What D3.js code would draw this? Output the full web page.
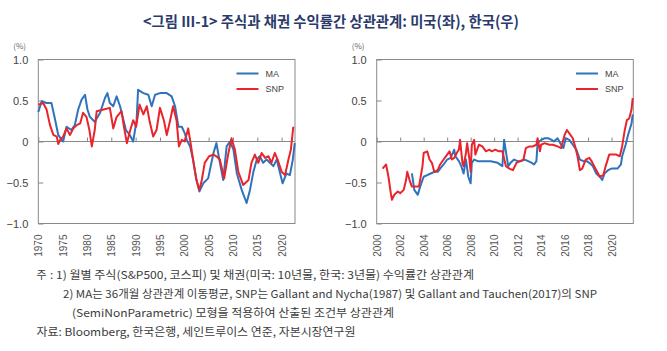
<!DOCTYPE html>
<html>
<head>
<meta charset="utf-8">
<script src="https://cdn.jsdelivr.net/npm/d3@7"></script>
<style>
  body { margin: 0; background: #fff; }
  svg { display: block; }
</style>
</head>
<body>
<svg id="chart" width="667" height="351"></svg>
<script>
// US: monthly stock-bond correlation
let usMA = [
  [1970.0,0.36],[1970.7,0.49],[1971.7,0.47],[1972.7,0.47],[1973.4,0.28],[1974.1,0.08],[1974.8,0.02],
  [1975.1,0.0],[1975.8,0.18],[1976.8,0.14],[1977.5,0.2],[1978.2,0.39],[1978.9,0.51],[1979.6,0.57],
  [1980.1,0.39],[1980.6,0.3],[1981.6,0.24],[1982.7,0.35],[1983.7,0.53],[1984.2,0.59],[1984.7,0.47],
  [1985.4,0.43],[1986.1,0.55],[1986.8,0.43],[1987.5,0.26],[1988.0,0.14],[1988.8,0.08],[1989.5,0.0],
  [1990.2,0.26],[1990.5,0.63],[1991.6,0.59],[1992.6,0.57],[1993.3,0.43],[1994.0,0.57],[1995.0,0.59],
  [1996.4,0.59],[1997.4,0.55],[1998.1,0.43],[1998.8,0.18],[1999.5,0.18],[2000.1,0.1],[2000.5,0.02],
  [2001.2,-0.06],[2001.8,-0.22],[2002.5,-0.47],[2003.1,-0.61],[2003.9,-0.51],[2004.9,-0.45],
  [2006.0,-0.14],[2006.6,-0.02],[2007.2,-0.22],[2008.0,-0.47],[2008.7,-0.06],[2009.4,0.0],
  [2010.1,-0.1],[2010.8,-0.39],[2011.8,-0.59],[2012.8,-0.75],[2013.5,-0.59],[2014.2,-0.37],
  [2014.9,-0.22],[2015.5,-0.18],[2016.2,-0.26],[2016.9,-0.22],[2017.6,-0.26],[2018.3,-0.3],
  [2019.0,-0.22],[2019.7,-0.39],[2020.2,-0.51],[2021.0,-0.39],[2021.7,-0.41],[2022.3,-0.22],[2022.7,-0.02]
];
let usSNP = [
  [1970.0,0.45],[1971.0,0.47],[1971.7,0.39],[1972.4,0.2],[1973.1,0.08],[1973.8,0.06],[1974.1,-0.03],
  [1974.5,0.02],[1975.1,0.06],[1975.8,0.16],[1976.5,0.08],[1977.2,0.16],[1977.9,0.2],[1978.6,0.22],
  [1979.2,0.35],[1979.9,0.3],[1980.5,0.14],[1981.0,-0.06],[1981.6,0.14],[1982.0,0.37],[1983.4,0.39],
  [1984.7,0.41],[1985.4,0.16],[1986.1,0.3],[1987.1,0.37],[1987.6,0.18],[1988.2,-0.02],[1988.8,0.12],
  [1989.5,0.26],[1990.1,0.18],[1990.8,0.45],[1991.6,0.33],[1992.3,0.43],[1992.9,0.24],[1993.6,0.06],
  [1994.3,0.14],[1995.0,0.41],[1995.8,0.26],[1996.4,0.08],[1997.1,0.26],[1997.7,0.43],[1998.4,0.26],
  [1998.9,-0.06],[1999.5,0.02],[2000.1,0.0],[2000.8,0.16],[2001.3,-0.02],[2001.8,-0.22],[2002.5,-0.47],
  [2003.1,-0.59],[2003.6,-0.47],[2004.2,-0.26],[2005.1,-0.18],[2006.0,-0.16],[2006.6,-0.18],
  [2007.3,-0.22],[2008.2,-0.45],[2009.0,-0.16],[2009.7,0.04],[2010.4,-0.1],[2011.1,-0.37],
  [2012.1,-0.53],[2013.2,-0.47],[2013.8,-0.26],[2014.5,-0.16],[2015.2,-0.26],[2015.9,-0.14],
  [2016.6,-0.2],[2017.3,-0.18],[2017.9,-0.26],[2018.6,-0.14],[2019.3,-0.24],[2020.0,-0.37],
  [2020.7,-0.41],[2021.4,-0.22],[2021.9,-0.1],[2022.4,0.18]
];

// Korea
let krMA = [
  [2003.0,-0.39],[2003.2,-0.59],[2003.5,-0.65],[2003.7,-0.55],[2004.0,-0.43],[2004.3,-0.41],
  [2004.6,-0.39],[2004.9,-0.37],[2005.2,-0.37],[2005.4,-0.33],[2005.7,-0.28],[2006.0,-0.22],
  [2006.3,-0.2],[2006.6,-0.1],[2006.7,-0.18],[2007.0,-0.24],[2007.2,-0.3],[2007.4,-0.39],
  [2007.6,-0.22],[2007.8,-0.43],[2008.0,-0.51],[2008.1,-0.26],[2008.3,-0.22],[2008.6,-0.24],
  [2009.1,-0.24],[2009.7,-0.24],[2010.3,-0.26],[2010.7,-0.3],[2010.85,0.02],[2011.0,-0.12],
  [2011.2,-0.3],[2011.4,-0.26],[2011.7,-0.22],[2012.0,-0.24],[2012.3,-0.24],[2012.6,-0.22],
  [2012.9,-0.24],[2013.2,-0.26],[2013.4,-0.28],[2013.6,-0.24],[2013.7,-0.02],[2014.0,0.02],
  [2014.3,0.04],[2014.6,0.04],[2014.9,0.02],[2015.1,0.0],[2015.4,0.04],[2015.7,-0.04],
  [2015.9,-0.08],[2016.1,0.04],[2016.4,0.02],[2016.7,-0.04],[2017.0,-0.1],[2017.3,-0.22],
  [2017.6,-0.24],[2017.9,-0.24],[2018.1,-0.26],[2018.4,-0.3],[2018.7,-0.39],[2019.0,-0.43],
  [2019.2,-0.47],[2019.4,-0.39],[2019.7,-0.35],[2020.0,-0.33],[2020.3,-0.33],[2020.5,-0.33],
  [2020.8,-0.28],[2020.9,-0.18],[2021.2,-0.04],[2021.4,0.08],[2021.7,0.22],[2021.8,0.33]
];
let krSNP = [
  [2000.5,-0.33],[2000.8,-0.28],[2001.0,-0.43],[2001.2,-0.63],[2001.3,-0.71],[2001.5,-0.65],
  [2001.8,-0.61],[2002.0,-0.63],[2002.3,-0.59],[2002.5,-0.47],[2002.6,-0.37],[2002.8,-0.47],
  [2003.0,-0.55],[2003.3,-0.55],[2003.6,-0.55],[2003.9,-0.3],[2004.0,-0.14],[2004.3,-0.12],
  [2004.5,-0.22],[2004.7,-0.26],[2004.9,-0.37],[2005.2,-0.35],[2005.4,-0.28],[2005.7,-0.22],
  [2006.0,-0.16],[2006.2,-0.12],[2006.4,-0.22],[2006.6,-0.2],[2006.9,-0.12],[2007.0,-0.1],
  [2007.1,0.02],[2007.3,-0.26],[2007.4,-0.3],[2007.6,-0.14],[2007.7,-0.02],[2007.9,-0.22],
  [2008.0,-0.37],[2008.1,-0.04],[2008.3,0.02],[2008.4,-0.16],[2008.7,-0.04],[2009.0,-0.06],
  [2009.3,-0.12],[2009.6,-0.1],[2009.8,-0.12],[2010.1,-0.1],[2010.4,-0.12],[2010.7,-0.12],
  [2011.0,-0.3],[2011.3,-0.33],[2011.6,-0.35],[2011.9,-0.26],[2012.2,-0.24],[2012.5,-0.22],
  [2012.7,-0.08],[2013.0,-0.06],[2013.3,-0.06],[2013.6,-0.04],[2013.7,0.04],[2013.9,-0.12],
  [2014.0,-0.04],[2014.3,-0.02],[2014.7,-0.04],[2015.0,-0.04],[2015.4,-0.06],[2015.7,-0.08],
  [2016.0,0.08],[2016.2,0.14],[2016.4,0.1],[2016.7,0.04],[2016.9,-0.06],[2017.1,-0.18],
  [2017.3,-0.35],[2017.5,-0.33],[2017.8,-0.22],[2018.1,-0.2],[2018.3,-0.24],[2018.7,-0.35],
  [2019.0,-0.43],[2019.3,-0.41],[2019.5,-0.3],[2019.8,-0.16],[2020.1,-0.16],[2020.4,-0.16],
  [2020.7,-0.18],[2020.9,-0.06],[2021.1,0.12],[2021.3,0.26],[2021.5,0.28],[2021.7,0.39],[2021.8,0.53]
];

let usYearTicks = [1970, 1975, 1980, 1985, 1990, 1995, 2000, 2005, 2010, 2015, 2020];
let krYearTicks = [2000, 2002, 2004, 2006, 2008, 2010, 2012, 2014, 2016, 2018, 2020];
let yTicks = [-1, -0.5, 0, 0.5, 1];
let seriesNames = ["MA", "SNP"];

let title = "<그림 III-1> 주식과 채권 수익률간 상관관계: 미국(좌), 한국(우)";
let notes = [
  ": 1) 월별 주식(S&P500, 코스피) 및 채권(미국: 10년물, 한국: 3년물) 수익률간 상관관계",
  "2) MA는 36개월 상관관계 이동평균, SNP는 Gallant and Nycha(1987) 및 Gallant and Tauchen(2017)의 SNP",
  "(SemiNonParametric) 모형을 적용하여 산출된 조건부 상관관계",
  "자료: Bloomberg, 한국은행, 세인트루이스 연준, 자본시장연구원"
];

let blue = "#2f73bd";
let red = "#e9242b";
let font = "'Noto Sans CJK KR', 'Noto Sans', sans-serif";

let svg = d3.select("#chart");
svg.append("rect").attr("width", 667).attr("height", 351).attr("fill", "#fff");

svg.append("text")
  .attr("x", 331).attr("y", 27)
  .attr("text-anchor", "middle")
  .attr("font-family", font)
  .attr("font-weight", "bold")
  .attr("font-size", "15px")
  .attr("fill", "#2b3a6c")
  .attr("textLength", 376)
  .attr("lengthAdjust", "spacingAndGlyphs")
  .text(title);

let plotTop = 59.5, plotBottom = 223.5;
let y = d3.scaleLinear().domain([-1, 1]).range([plotBottom, plotTop]);

function drawPanel(left, right, domain, ticks, ma, snp, legendX) {
  let x = d3.scaleLinear().domain(domain).range([left, right]);
  let g = svg.append("g");

  g.append("text")
    .attr("x", left - 25).attr("y", 49)
    .attr("font-family", font).attr("font-size", "8px").attr("fill", "#666")
    .text("(%)");

  // y axis with inward ticks
  let yAxis = d3.axisLeft(y).tickValues(yTicks).tickSize(-5).tickPadding(10)
    .tickFormat(d => d == 0 ? "0" : d3.format(".1f")(d));
  let ya = g.append("g").attr("transform", "translate(" + left + ",0)").call(yAxis);
  ya.select(".domain").remove();
  ya.selectAll("line").attr("stroke", "#888");
  ya.selectAll("text").attr("font-family", "'Liberation Sans', Arial, sans-serif")
    .attr("font-size", "11px").attr("fill", "#444");

  // zero line with upward ticks
  let zAxis = d3.axisTop(x).tickValues(ticks).tickSize(4).tickFormat("");
  let za = g.append("g").attr("transform", "translate(0," + y(0) + ")").call(zAxis);
  za.select(".domain").attr("stroke", "#888").attr("d", "M" + left + ",0H" + right);
  za.selectAll("line").attr("stroke", "#888");

  // year labels, rotated
  let xAxis = d3.axisBottom(x).tickValues(ticks).tickSize(0).tickFormat(d3.format("d"));
  let xa = g.append("g").attr("transform", "translate(0," + plotBottom + ")").call(xAxis);
  xa.select(".domain").remove();
  xa.selectAll("text")
    .attr("font-family", "'Liberation Sans', Arial, sans-serif")
    .attr("font-size", "10px").attr("fill", "#555")
    .attr("text-anchor", "end")
    .attr("transform", "rotate(-90)")
    .attr("x", -11).attr("y", 0).attr("dy", "0.35em");

  // frame
  g.append("rect")
    .attr("x", left).attr("y", plotTop)
    .attr("width", right - left).attr("height", plotBottom - plotTop)
    .attr("fill", "none").attr("stroke", "#8a8a8a").attr("stroke-width", 1);

  let line = d3.line().x(d => x(d[0])).y(d => y(d[1]));
  [ma, snp].forEach((s, i) => {
    g.append("path")
      .datum(s)
      .attr("d", line)
      .attr("fill", "none")
      .attr("stroke", i ? red : blue)
      .attr("stroke-width", 2)
      .attr("stroke-linejoin", "round");
  });

  // legend
  seriesNames.forEach((name, i) => {
    let ly = 73.5 + i * 15.5;
    g.append("line")
      .attr("x1", legendX).attr("x2", legendX + 22)
      .attr("y1", ly).attr("y2", ly)
      .attr("stroke", i ? red : blue).attr("stroke-width", 2);
    g.append("text")
      .attr("x", legendX + 29).attr("y", ly).attr("dy", "0.35em")
      .attr("font-family", "'Liberation Sans', Arial, sans-serif")
      .attr("font-size", "9px").attr("fill", "#444")
      .text(name);
  });
}

drawPanel(38.3, 295, [1970, 2022.75], usYearTicks, usMA, usSNP, 236.5);
drawPanel(376.7, 633.3, [2000, 2021.85], krYearTicks, krMA, krSNP, 576);

// footnotes
svg.append("text")
  .attr("x", 36.5).attr("y", 279)
  .attr("font-family", font).attr("font-size", "11px").attr("fill", "#3c3c3c")
  .text("주");
let noteX = [50, 63, 72, 36.5];
let noteLen = [424, 534, 322, 319];
notes.forEach((t, i) => {
  svg.append("text")
    .attr("x", noteX[i]).attr("y", 279 + i * 19)
    .attr("font-family", font)
    .attr("font-size", "11px")
    .attr("fill", "#3c3c3c")
    .attr("textLength", noteLen[i])
    .attr("lengthAdjust", "spacingAndGlyphs")
    .text(t);
});
</script>
</body>
</html>
